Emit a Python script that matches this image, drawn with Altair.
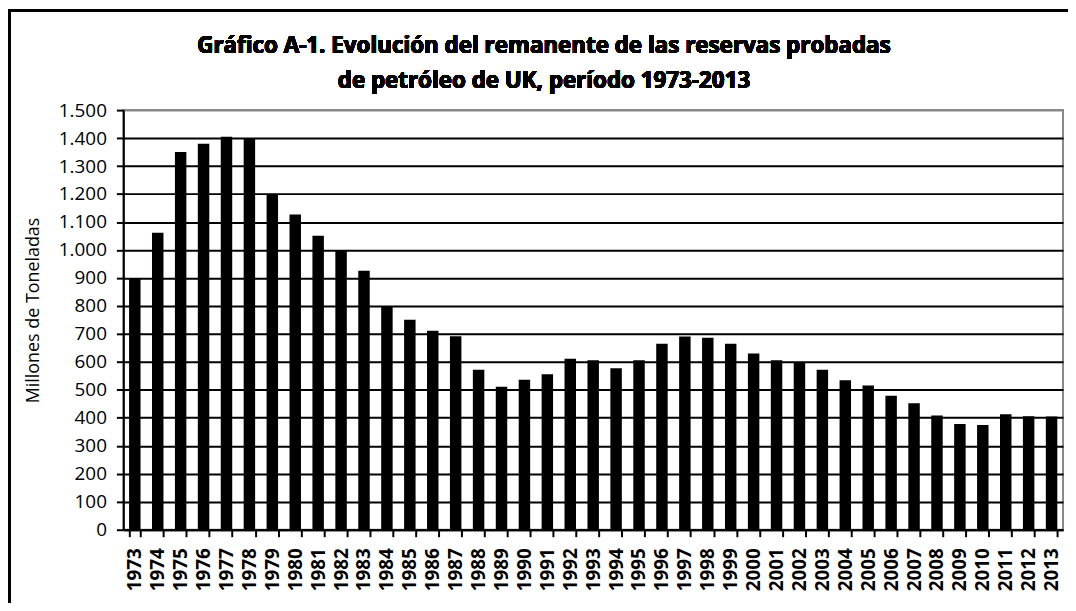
import altair as alt
import pandas as pd

years = [str(y) for y in range(1973, 2014)]
values = [900, 1062, 1350, 1380, 1405, 1400, 1200, 1127, 1051, 1000, 926,
          800, 751, 711, 692, 572, 511, 536, 556, 611, 606, 577, 606, 665,
          691, 686, 665, 630, 606, 600, 572, 534, 516, 479, 452, 408, 378,
          374, 413, 406, 405]

title_lines = ["Gráfico A-1. Evolución del remanente de las reservas probadas",
               "de petróleo de UK, período 1973-2013"]
y_title = "Millones de Toneladas"
y_ticks = list(range(0, 1600, 100))

df = pd.DataFrame({"year": years, "value": values})

W, H = 945, 422
FONT = "Open Sans"

bars = alt.Chart(df).mark_bar(color="black").encode(
    x=alt.X("year:O", sort=years,
            scale=alt.Scale(paddingInner=0.5, paddingOuter=0.25),
            axis=alt.Axis(title=None, labelAngle=270, labelFont=FONT,
                          labelFontSize=19, labelFontWeight="bold",
                          labelColor="black", labelPadding=11,
                          tickBand="extent", tickColor="black", tickWidth=2,
                          tickSize=7, domainColor="black", domainWidth=2,
                          grid=False)),
    y=alt.Y("value:Q", scale=alt.Scale(domain=[0, 1500], nice=False),
            axis=alt.Axis(title=y_title, values=y_ticks, titleFont=FONT,
                          titleFontSize=18, titleFontWeight="normal",
                          titleColor="black", titleAngle=270,
                          titleAlign="center", titleBaseline="middle",
                          titleX=-90, titleY=201,
                          labelFont=FONT, labelFontSize=19, labelColor="black",
                          labelPadding=10,
                          labelExpr="replace(format(datum.value, ','), ',', '.')",
                          tickColor="black", tickWidth=2, tickSize=7,
                          domainColor="black", domainWidth=2,
                          grid=True, gridWidth=2,
                          gridColor=alt.condition("datum.value == 1500",
                                                  alt.value("#888888"),
                                                  alt.value("black")))),
)

t1 = alt.Chart(df).mark_text(font=FONT, fontSize=22.5, fontWeight="bold",
                             color="black", align="center",
                             baseline="middle").encode(
    x=alt.value(423), y=alt.value(-64), text=alt.value(title_lines[0]))
t2 = alt.Chart(df).mark_text(font=FONT, fontSize=22.5, fontWeight="bold",
                             color="black", align="center",
                             baseline="middle").encode(
    x=alt.value(423), y=alt.value(-29), text=alt.value(title_lines[1]))

border_l = alt.Chart(df).mark_rule(color="black", strokeWidth=2.5).encode(
    x=alt.value(-115), y=alt.value(-101), y2=alt.value(700))
border_t = alt.Chart(df).mark_rule(color="black", strokeWidth=2.5).encode(
    x=alt.value(-116), x2=alt.value(1000), y=alt.value(-100))

chart = alt.layer(bars, t1, t2, border_l, border_t).properties(
    width=W, height=H,
    autosize=alt.AutoSizeParams(type="none"),
    padding={"left": 116, "top": 101, "right": 5, "bottom": 72},
    background="white",
).configure_view(stroke="#888888", strokeWidth=2)

chart.save("out.html", embed_options={"renderer": "svg", "actions": False})
